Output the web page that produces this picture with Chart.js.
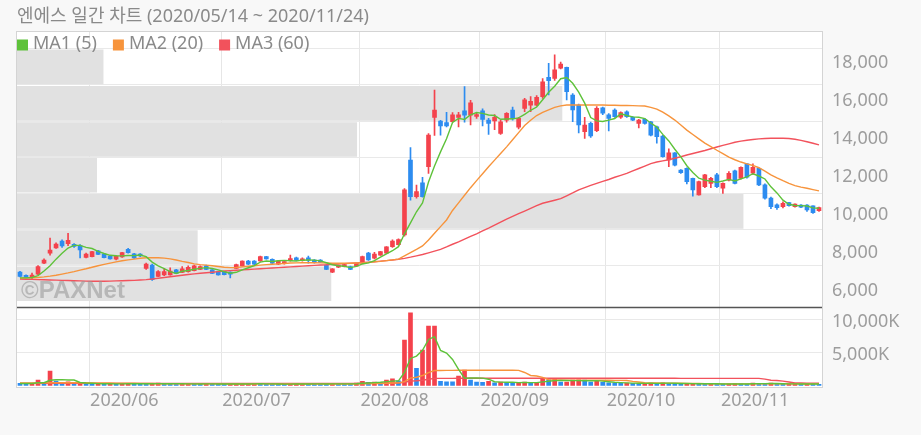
<!DOCTYPE html>
<html><head><meta charset="utf-8">
<script src="https://cdn.jsdelivr.net/npm/chart.js@4.4.0/dist/chart.umd.min.js"></script>
<style>
html,body{margin:0;padding:0;background:#f8f8f8;}
canvas{display:block;}
</style></head><body>
<canvas id="c" width="921" height="435"></canvas>
<script>
const chartTitle = '엔에스 일간 차트 (2020/05/14 ~ 2020/11/24)';
const seriesNames = ['MA1 (5)', 'MA2 (20)', 'MA3 (60)'];

const dates = [
'2020/05/14','2020/05/15','2020/05/18','2020/05/19','2020/05/20','2020/05/21','2020/05/22','2020/05/25','2020/05/26','2020/05/27','2020/05/28','2020/05/29',
'2020/06/01','2020/06/02','2020/06/03','2020/06/04','2020/06/05','2020/06/08','2020/06/09','2020/06/10','2020/06/11','2020/06/12','2020/06/15','2020/06/16','2020/06/17','2020/06/18','2020/06/19','2020/06/22','2020/06/23','2020/06/24','2020/06/25','2020/06/26','2020/06/29','2020/06/30',
'2020/07/01','2020/07/02','2020/07/03','2020/07/06','2020/07/07','2020/07/08','2020/07/09','2020/07/10','2020/07/13','2020/07/14','2020/07/15','2020/07/16','2020/07/17','2020/07/20','2020/07/21','2020/07/22','2020/07/23','2020/07/24','2020/07/27','2020/07/28','2020/07/29','2020/07/30','2020/07/31',
'2020/08/03','2020/08/04','2020/08/05','2020/08/06','2020/08/07','2020/08/10','2020/08/11','2020/08/12','2020/08/13','2020/08/14','2020/08/18','2020/08/19','2020/08/20','2020/08/21','2020/08/24','2020/08/25','2020/08/26','2020/08/27','2020/08/28','2020/08/31',
'2020/09/01','2020/09/02','2020/09/03','2020/09/04','2020/09/07','2020/09/08','2020/09/09','2020/09/10','2020/09/11','2020/09/14','2020/09/15','2020/09/16','2020/09/17','2020/09/18','2020/09/21','2020/09/22','2020/09/23','2020/09/24','2020/09/25','2020/09/28','2020/09/29',
'2020/10/05','2020/10/06','2020/10/07','2020/10/08','2020/10/12','2020/10/13','2020/10/14','2020/10/15','2020/10/16','2020/10/19','2020/10/20','2020/10/21','2020/10/22','2020/10/23','2020/10/26','2020/10/27','2020/10/28','2020/10/29','2020/10/30',
'2020/11/02','2020/11/03','2020/11/04','2020/11/05','2020/11/06','2020/11/09','2020/11/10','2020/11/11','2020/11/12','2020/11/13','2020/11/16','2020/11/17','2020/11/18','2020/11/19','2020/11/20','2020/11/23','2020/11/24'];

const openP = [7000,6830,6720,6890,7480,8000,8280,8640,8500,8470,
8400,7780,7820,8130,7950,7850,7680,7800,8200,7960,
7950,7200,7380,6780,6850,6860,7120,6990,7030,7080,
7150,7330,7120,7030,7030,7000,7200,7330,7590,7590,
7590,7820,7680,7420,7450,7600,7760,7600,7760,7640,
7640,7380,7000,7260,7300,7300,7320,7470,8000,7740,
7900,8000,8340,8450,8960,12900,10980,11710,12550,15150,
14960,14880,14930,15150,15500,15270,15200,15500,15010,14960,
14310,15010,15530,14630,15630,15800,15800,16240,17260,17210,
17740,17790,16330,15800,14400,14840,14450,15660,15280,15540,
15160,15450,15150,14840,15050,14920,14660,14170,12910,13290,
12380,12470,11940,11070,11500,11680,12120,11420,11850,12340,
11940,12700,12210,12470,11600,10900,10550,10450,10660,10450,
10540,10540,10490,10240];
const highP = [7050,6860,6950,7350,7700,8800,8550,8700,9050,8500,
8450,8000,8100,8150,7980,7880,7880,8050,8250,7990,
7980,7480,7420,7080,7200,7230,7150,7300,7330,7380,
7330,7370,7140,7060,7050,7020,7420,7600,7620,7610,
7850,7840,7700,7620,7560,7900,7790,7750,7850,7660,
7660,7400,7190,7380,7420,7320,7480,7850,8050,8050,
8100,8350,8700,8760,11400,13560,11590,12000,14300,16590,
15000,15420,15400,15420,16780,16050,15400,15600,15100,15300,
15000,15400,15700,15150,16150,16250,16300,17200,18000,18440,
18070,17800,16400,15850,15150,14900,15720,15700,15350,15600,
15450,15500,15200,15050,15100,14950,14700,14200,13500,13300,
12400,12500,11960,11800,12150,12000,12200,11700,12300,12380,
12550,12720,12700,12500,11650,10950,10600,10700,10680,10600,
10560,10560,10500,10430];
const lowP = [6750,6700,6650,6860,7450,7900,8250,8300,8400,8300,
7750,7750,7800,7920,7750,7680,7650,7780,8000,7720,
7820,7150,6560,6760,6820,6840,6920,6970,7000,7060,
7130,7130,6920,6840,6850,6700,7180,7310,7400,7400,
7570,7680,7450,7400,7420,7580,7600,7580,7480,7480,
7500,7130,6980,7240,7280,7130,7300,7450,7620,7700,
7880,7980,8300,8420,8900,10790,10900,10950,12200,14200,
14220,14650,14900,14650,14900,14750,15100,14700,14250,14500,
14250,14900,15000,14550,15450,15450,15750,16150,16330,17100,
17700,16070,14920,14330,14050,14100,14400,15300,14440,15150,
15100,15150,14980,14600,14800,14180,13800,13050,12560,12600,
12200,11650,11000,11050,11450,11450,11450,11150,11800,11650,
11900,11950,12150,11550,10850,10350,10300,10380,10480,10420,
10400,10200,10100,10200];
const closeP = [6780,6730,6850,7290,7640,8170,8480,8380,8680,8350,
8170,7950,8080,7940,7770,7700,7850,8030,8030,7750,
7850,7420,6600,7030,7030,7060,6940,7170,7250,7340,
7300,7150,6940,6860,6870,6900,7400,7580,7420,7420,
7820,7700,7470,7590,7520,7720,7630,7700,7620,7500,
7520,7150,7170,7350,7380,7150,7460,7820,7650,7950,
8080,8330,8640,8720,11330,10980,11240,10980,14220,15540,
14700,14700,15280,15280,15270,15920,15300,15050,14840,15160,
14920,15360,15100,15100,16070,16000,16210,17030,17080,17650,
17960,16510,15540,14750,14750,14170,15630,15370,15100,15190,
15400,15190,15010,15010,14840,14220,14130,13080,13290,12640,
12240,11770,11330,11770,12120,11940,11500,11680,12200,11680,
12520,12000,12520,11600,10900,10450,10400,10620,10500,10590,
10420,10280,10140,10400];

const ma5 = [6700,6700,6720,6820,7058,7336,7686,7992,8270,8412,
8412,8306,8246,8098,7982,7888,7868,7858,7876,7872,
7902,7816,7530,7330,7186,7028,6932,7046,7090,7152,
7200,7242,7196,7118,7024,6944,6994,7122,7234,7344,
7528,7588,7566,7600,7620,7600,7586,7632,7638,7634,
7594,7498,7392,7338,7314,7240,7302,7432,7492,7606,
7792,7966,8130,8344,9020,9600,10182,10650,11750,12592,
13336,14028,14888,15100,15046,15290,15410,15364,15276,15254,
15054,15066,15076,15128,15310,15526,15696,16082,16478,16794,
17186,17246,16948,16482,15902,15144,14968,14934,15004,15092,
15338,15250,15178,15160,15090,14854,14642,14256,13912,13472,
13076,12604,12254,11950,11846,11786,11732,11802,11888,11800,
11916,12016,12184,12064,11908,11494,11174,10794,10574,10512,
10506,10482,10386,10366];
const ma20 = [6680,6690,6700,6720,6750,6790,6840,6900,6960,7030,
7110,7180,7260,7340,7410,7480,7540,7600,7650,7690,
7730,7760,7760,7760,7740,7700,7640,7570,7510,7440,
7400,7370,7340,7300,7260,7240,7250,7280,7310,7340,
7370,7400,7420,7440,7460,7480,7490,7500,7500,7500,
7490,7480,7470,7470,7470,7470,7480,7490,7510,7540,
7570,7610,7650,7690,7860,8030,8200,8380,8700,9050,
9400,9750,10250,10650,11050,11450,11820,12180,12550,12900,
13250,13600,13970,14350,14720,15000,15250,15420,15550,15680,
15760,15800,15800,15800,15800,15800,15800,15800,15790,15790,
15780,15780,15770,15760,15750,15680,15590,15430,15230,15010,
14750,14480,14250,14020,13800,13610,13420,13240,13060,12920,
12800,12700,12620,12500,12320,12130,11970,11820,11680,11560,
11480,11420,11350,11280];
const ma60 = [6640,6630,6620,6610,6600,6590,6580,6570,6560,6550,
6540,6530,6520,6520,6520,6530,6540,6550,6560,6570,
6590,6610,6640,6680,6720,6760,6800,6840,6880,6910,
6940,6970,7000,7030,7060,7080,7100,7120,7140,7160,
7180,7200,7220,7240,7260,7280,7300,7320,7340,7360,
7380,7390,7410,7430,7450,7470,7490,7510,7530,7550,
7580,7610,7640,7680,7730,7790,7860,7930,8020,8110,
8200,8330,8470,8600,8740,8880,9020,9170,9320,9480,
9640,9800,9940,10080,10220,10360,10500,10630,10710,10790,
10870,11020,11170,11330,11450,11570,11680,11780,11880,12000,
12100,12200,12330,12460,12590,12720,12800,12860,12920,13000,
13080,13170,13250,13330,13410,13500,13590,13680,13760,13840,
13900,13950,13990,14020,14040,14050,14050,14050,14040,14000,
13940,13870,13790,13700];

// volume in thousands of shares (K)
const volume = [300,250,280,800,350,2170,650,350,550,300,
300,250,220,260,200,230,210,240,300,280,
220,200,260,330,240,230,210,220,250,200,
190,230,210,200,180,190,220,230,240,260,
210,200,190,180,170,200,230,250,220,210,
200,190,260,240,210,200,350,600,450,500,
450,800,1000,700,6860,11000,2570,5350,8980,8980,
600,550,520,1400,2300,800,500,450,600,400,
500,450,350,400,500,400,450,900,850,950,
500,500,800,850,800,500,600,450,400,350,
300,350,300,250,300,350,300,400,300,250,
200,250,300,250,200,220,200,180,200,250,
220,200,350,300,250,350,200,150,200,250,
200,220,200,150];
const volMa5 = [290,280,285,400,396,770,850,864,814,804,
430,350,324,266,246,232,224,228,236,252,
250,248,252,258,250,252,254,246,230,222,
214,218,216,206,202,202,200,204,212,228,
232,228,220,208,190,188,194,206,214,222,
222,214,216,220,220,220,252,320,362,420,
470,560,640,690,1962,4072,4426,5296,6952,7376,
5296,4892,3926,2410,1074,1114,1104,1090,930,550,
490,480,460,420,440,420,420,530,620,710,
730,740,720,720,690,690,710,640,550,460,
420,370,340,310,300,310,300,320,330,320,
290,280,260,250,240,244,234,210,200,210,
210,210,244,264,264,290,290,250,230,230,
200,204,214,204];
const volMa20 = [380,380,375,370,370,400,400,400,400,400,
400,390,380,370,360,350,340,330,320,310,
300,290,270,250,240,235,232,230,228,226,
224,222,220,218,216,215,214,214,214,215,
216,216,215,214,212,210,210,211,212,213,
213,212,213,214,215,215,222,240,252,267,
280,310,350,372,560,1100,1230,1490,1930,2250,
2260,2270,2270,2280,2290,2290,2290,2290,2290,2290,
2290,2280,2280,2270,1950,1500,1420,1200,850,800,
800,790,790,790,780,780,780,770,770,760,
750,740,600,500,420,380,350,340,330,320,
310,300,290,270,250,240,230,225,220,220,
220,220,230,240,240,250,240,240,230,230,
230,220,220,220];
const volMa60 = [300,300,300,300,300,305,305,305,305,305,
305,300,300,300,300,300,300,300,300,300,
300,300,300,300,300,300,300,300,300,300,
300,300,300,300,300,300,300,300,300,300,
300,300,300,300,300,300,300,300,300,300,
300,300,300,300,300,300,305,310,315,320,
325,335,350,360,470,650,690,780,920,1060,
1060,1060,1060,1070,1080,1080,1080,1080,1080,1080,
1080,1080,1080,1080,1080,1080,1080,1080,1080,1080,
1080,1080,1080,1080,1080,1080,1080,1080,1080,1080,
1080,1080,1080,1080,1070,1070,1070,1070,1070,1070,
1060,1060,1060,1060,1060,1060,1060,1060,1060,1060,
1060,1060,1060,1060,950,770,730,640,500,360,
350,340,330,320];

// price-by-volume profile bands (band edges in KRW, share of the widest band in %)
const profileEdges = [5436, 7342, 9258, 11154, 13050, 14925, 16857, 18760];
const profileShare = [39.0, 22.4, 90.2, 9.9, 42.2, 67.7, 10.7];

const monthStarts = ['2020/06/01','2020/07/01','2020/08/03','2020/09/01','2020/10/05','2020/11/02'];
const monthLabels = ['2020/06','2020/07','2020/08','2020/09','2020/10','2020/11'];
const priceTickLabels = [6000, 8000, 10000, 12000, 14000, 16000, 18000];
const volumeTickLabels = [5000, 10000];

// ---------- styling ----------
const FONT = '"Noto Sans", "Noto Sans CJK KR", sans-serif';
Chart.defaults.font.family = FONT;
const UP = '#f4424c', DOWN = '#2d8cf0';
const MA_COLORS = ['#5ec23a', '#f7943c', '#f2525c'];
const AXIS_TXT = '#9d9d9d';
const GRID = '#e9e9e9';

const candleColors = closeP.map((c, i) => c >= openP[i] ? UP : DOWN);
const volumeColors = volume.map((v, i) => (i > 0 && v >= volume[i - 1]) ? UP : DOWN);
const gridEdges = profileEdges.slice(1);
const bandData = profileShare.map((s, i) => ({ y: (profileEdges[i] + profileEdges[i + 1]) / 2, x: s }));

const lineDs = (label, data, color, axis, order) => ({
  type: 'line', label, data, yAxisID: axis, xAxisID: 'x',
  borderColor: color, backgroundColor: color, borderWidth: 1.4,
  pointRadius: 0, tension: 0, order
});

const decorPlugin = {
  id: 'decor',
  beforeDraw(chart) {
    const { ctx, chartArea: a } = chart;
    ctx.save();
    ctx.fillStyle = '#ffffff';
    ctx.fillRect(a.left, a.top, a.right - a.left, a.bottom - a.top);
    ctx.restore();
  },
  afterDatasetsDraw(chart) {
    const { ctx, chartArea: a } = chart;
    ctx.save();
    // watermark
    ctx.font = 'bold 24px "Liberation Sans", Arial, sans-serif';
    ctx.fillStyle = 'rgba(150,150,150,0.55)';
    ctx.textBaseline = 'alphabetic';
    ctx.textAlign = 'left';
    ctx.fillText('©PAXNet', a.left + 4, 298);
    // legend
    ctx.font = '18px ' + FONT;
    ctx.textBaseline = 'middle';
    let x = a.left;
    const y = a.top + 13;
    chart.data.datasets.slice(0, 3).forEach((ds) => {
      ctx.fillStyle = ds.borderColor;
      ctx.fillRect(x, y - 5.5, 11, 11);
      ctx.fillStyle = '#8a8a8a';
      ctx.fillText(ds.label, x + 16, y - 1);
      x += 16 + ctx.measureText(ds.label).width + 16;
    });
    ctx.restore();
  },
  afterDraw(chart) {
    const { ctx, chartArea: a } = chart;
    const yv = chart.scales.yv;
    ctx.save();
    ctx.strokeStyle = '#d4d4d4';
    ctx.lineWidth = 1;
    ctx.strokeRect(a.left - 0.5, a.top - 0.5, a.right - a.left + 1, a.bottom - a.top + 1);
    ctx.strokeStyle = '#555555';
    ctx.lineWidth = 1.5;
    ctx.beginPath();
    ctx.moveTo(a.left, yv.top);
    ctx.lineTo(a.right, yv.top);
    ctx.stroke();
    ctx.restore();
  }
};

new Chart(document.getElementById('c'), {
  type: 'bar',
  data: {
    labels: dates,
    datasets: [
      lineDs(seriesNames[0], ma5, MA_COLORS[0], 'y', 1),
      lineDs(seriesNames[1], ma20, MA_COLORS[1], 'y', 2),
      lineDs(seriesNames[2], ma60, MA_COLORS[2], 'y', 3),
      lineDs('Vol ' + seriesNames[0], volMa5, MA_COLORS[0], 'yv', 1),
      lineDs('Vol ' + seriesNames[1], volMa20, MA_COLORS[1], 'yv', 2),
      lineDs('Vol ' + seriesNames[2], volMa60, MA_COLORS[2], 'yv', 3),
      { type: 'bar', label: 'body', data: openP.map((o, i) => [o, closeP[i]]), yAxisID: 'y', xAxisID: 'x',
        backgroundColor: candleColors, barThickness: 4, grouped: false, minBarLength: 2, order: 5 },
      { type: 'bar', label: 'wick', data: lowP.map((l, i) => [l, highP[i]]), yAxisID: 'y', xAxisID: 'x',
        backgroundColor: candleColors, barThickness: 1, grouped: false, order: 6 },
      { type: 'bar', label: 'volume', data: volume, yAxisID: 'yv', xAxisID: 'x',
        backgroundColor: volumeColors, barThickness: 4, grouped: false, order: 6 },
      { type: 'bar', label: 'profile', indexAxis: 'y', data: bandData, xAxisID: 'xp', yAxisID: 'y',
        backgroundColor: '#e1e1e1', barThickness: 34, grouped: false, order: 20 }
    ]
  },
  options: {
    responsive: false,
    animation: false,
    events: [],
    layout: { padding: { left: 17, right: 0, top: 0, bottom: 0 } },
    plugins: {
      legend: { display: false },
      tooltip: { enabled: false },
      title: {
        display: true, text: chartTitle, align: 'start', color: '#8a8a8a',
        font: { size: 18, family: FONT, weight: 'normal', lineHeight: 1 },
        padding: { top: 8, bottom: 6 }
      }
    },
    scales: {
      x: {
        type: 'category', position: 'bottom', offset: true,
        grid: { offset: true, drawTicks: false, lineWidth: 1,
          color: (ctx) => monthStarts.includes(dates[ctx.index]) ? '#e6e6e6' : 'rgba(0,0,0,0)' },
        border: { display: false },
        ticks: { autoSkip: false, maxRotation: 0, minRotation: 0, align: 'start', labelOffset: -2, padding: 3,
          color: AXIS_TXT, font: { size: 18, family: FONT },
          callback: (v, i) => { const k = monthStarts.indexOf(dates[i]); return k >= 0 ? monthLabels[k] : ''; } },
        afterFit: (s) => { s.height = 48; }
      },
      xp: { type: 'linear', display: false, min: 0, max: 100, offset: false, grid: { offset: false } },
      y: {
        type: 'linear', position: 'right', stack: 'panels', stackWeight: 275.5,
        min: 5140, max: 19648, offset: false, beginAtZero: false,
        afterBuildTicks: (s) => { s.ticks = [...priceTickLabels, ...gridEdges].sort((a, b) => a - b).map(v => ({ value: v })); },
        afterFit: (s) => { s.width = 99; },
        grid: { offset: false, drawTicks: false, color: (ctx) => (ctx.tick && gridEdges.includes(ctx.tick.value)) ? GRID : 'rgba(0,0,0,0)' },
        border: { display: false },
        ticks: { autoSkip: false, padding: 10, color: AXIS_TXT, font: { size: 18, family: FONT },
          callback: (v) => priceTickLabels.includes(v) ? v.toLocaleString('en-US') : '' }
      },
      yv: {
        type: 'linear', position: 'right', stack: 'panels', stackWeight: 79.5,
        min: -250, max: 11790, offset: false,
        afterBuildTicks: (s) => { s.ticks = volumeTickLabels.map(v => ({ value: v })); },
        afterFit: (s) => { s.width = 99; },
        grid: { offset: false, drawTicks: false, color: GRID },
        border: { display: false },
        ticks: { autoSkip: false, padding: 10, labelOffset: 3, color: AXIS_TXT, font: { size: 18, family: FONT },
          callback: (v) => v.toLocaleString('en-US') + 'K' }
      }
    }
  },
  plugins: [decorPlugin]
});
</script>
</body></html>
